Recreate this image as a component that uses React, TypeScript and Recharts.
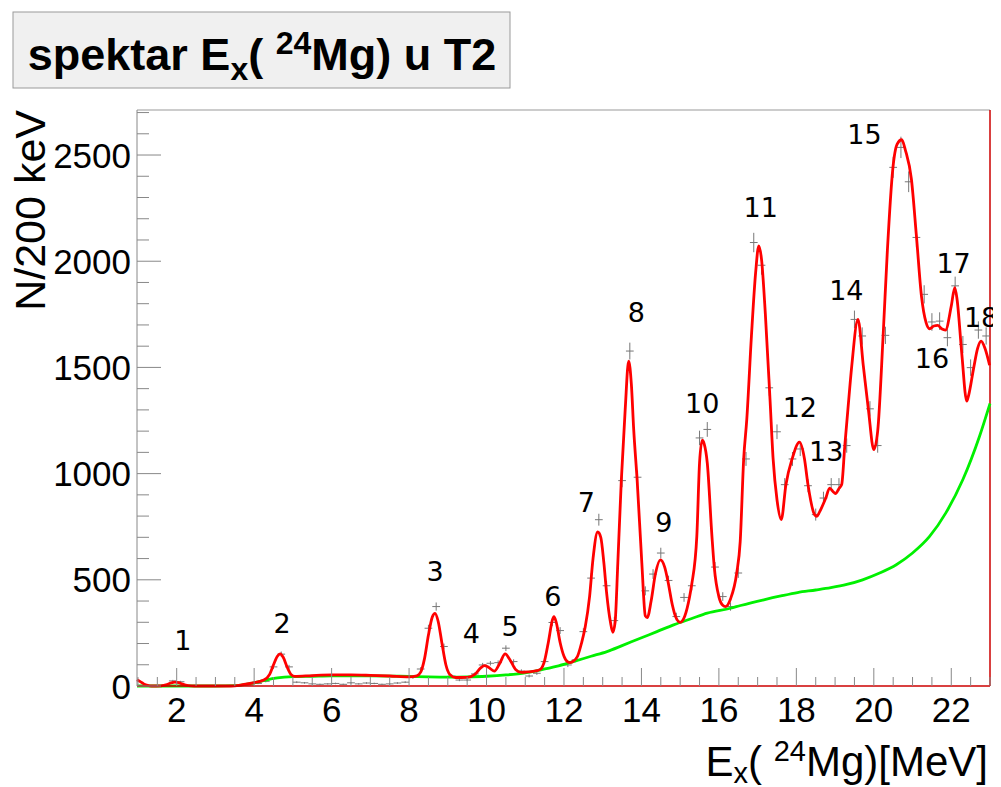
import React from 'react';
import { ComposedChart, Line, Scatter, XAxis, YAxis, ErrorBar, ReferenceLine } from 'recharts';

const X_MIN = 0.975;
const X_MAX = 23;
const Y_MAX = 2712;

const Y_TICKS = [0, 100, 200, 300, 400, 500, 600, 700, 800, 900, 1000, 1100, 1200, 1300, 1400, 1500, 1600, 1700, 1800, 1900, 2000, 2100, 2200, 2300, 2400, 2500, 2600, 2700];
const X_TICKS = [1, 1.5, 2, 2.5, 3, 3.5, 4, 4.5, 5, 5.5, 6, 6.5, 7, 7.5, 8, 8.5, 9, 9.5, 10, 10.5, 11, 11.5, 12, 12.5, 13, 13.5, 14, 14.5, 15, 15.5, 16, 16.5, 17, 17.5, 18, 18.5, 19, 19.5, 20, 20.5, 21, 21.5, 22, 22.5, 23];

// histogram: 200 keV bins, centres 1.1 ... 22.9 MeV
const BIN_CENTERS = [
  1.1, 1.3, 1.5, 1.7, 1.9, 2.1, 2.3, 2.5, 2.7, 2.9, 3.1, 3.3, 3.5, 3.7, 3.9, 4.1, 4.3, 4.5, 4.7, 4.9,
  5.1, 5.3, 5.5, 5.7, 5.9, 6.1, 6.3, 6.5, 6.7, 6.9, 7.1, 7.3, 7.5, 7.7, 7.9, 8.1, 8.3, 8.5, 8.7, 8.9,
  9.1, 9.3, 9.5, 9.7, 9.9, 10.1, 10.3, 10.5, 10.7, 10.9, 11.1, 11.3, 11.5, 11.7, 11.9, 12.1, 12.3, 12.5, 12.7, 12.9,
  13.1, 13.3, 13.5, 13.7, 13.9, 14.1, 14.3, 14.5, 14.7, 14.9, 15.1, 15.3, 15.5, 15.7, 15.9, 16.1, 16.3, 16.5, 16.7, 16.9,
  17.1, 17.3, 17.5, 17.7, 17.9, 18.1, 18.3, 18.5, 18.7, 18.9, 19.1, 19.3, 19.5, 19.7, 19.9, 20.1, 20.3, 20.5, 20.7, 20.9,
  21.1, 21.3, 21.5, 21.7, 21.9, 22.1, 22.3, 22.5, 22.7, 22.9,
];
const COUNTS = [
  2, 0, 2, 5, 24, 20, 3, 0, 1, 0, 0, 1, 2, 3, 5, 12, 22, 90, 150, 90,
  18, 15, 10, 8, 10, 12, 8, 15, 10, 14, 12, 8, 10, 14, 18, 40, 80, 272, 374, 186,
  47, 28, 28, 57, 99, 107, 110, 178, 115, 70, 47, 60, 115, 299, 261, 99, 123, 256, 508, 783,
  472, 308, 967, 1577, 983, 448, 527, 626, 497, 327, 417, 472, 1168, 1208, 560, 421, 374, 532, 1069, 2088,
  1981, 1404, 1197, 948, 1069, 1116, 943, 807, 885, 948, 948, 1132, 1726, 1648, 1305, 1132, 1651, 2442, 2536, 2374,
  2112, 1844, 1714, 1718, 1640, 1884, 1608, 1499, 1676, 1648,
];

// total fit (red)
const FIT_E = [
  0.975, 1.05, 1.15, 1.25, 1.35, 1.6, 1.75, 1.85, 1.95, 2.05, 2.15, 2.3, 2.45, 3.4, 3.7, 4.0, 4.25, 4.4, 4.5, 4.6,
  4.67, 4.75, 4.85, 4.95, 5.05, 5.5, 6.0, 6.5, 7.0, 7.5, 8.0, 8.2, 8.3, 8.4, 8.5, 8.6, 8.67, 8.75, 8.85, 8.95,
  9.05, 9.2, 9.5, 9.7, 9.85, 9.95, 10.05, 10.2, 10.35, 10.48, 10.6, 10.75, 10.9, 11.1, 11.3, 11.4, 11.5, 11.6, 11.7, 11.74,
  11.8, 11.9, 12.0, 12.1, 12.16, 12.25, 12.35, 12.45, 12.55, 12.66, 12.75, 12.87, 12.95, 13.03, 13.1, 13.2, 13.26, 13.32, 13.39, 13.48,
  13.58, 13.67, 13.74, 13.8, 13.89, 14.01, 14.1, 14.15, 14.25, 14.36, 14.49, 14.6, 14.68, 14.8, 14.88, 15.0, 15.12, 15.24, 15.3, 15.43,
  15.5, 15.57, 15.62, 15.7, 15.82, 15.88, 16.0, 16.1, 16.17, 16.3, 16.46, 16.55, 16.64, 16.72, 16.84, 16.95, 17.03, 17.1, 17.2, 17.32,
  17.4, 17.5, 17.61, 17.73, 17.89, 18.08, 18.21, 18.3, 18.47, 18.53, 18.6, 18.76, 18.86, 18.95, 19.01, 19.1, 19.17, 19.25, 19.33, 19.43,
  19.59, 19.73, 19.86, 20.0, 20.1, 20.24, 20.35, 20.49, 20.6, 20.72, 20.82, 20.97, 21.1, 21.23, 21.35, 21.44, 21.55, 21.65, 21.75, 21.85,
  22.0, 22.09, 22.15, 22.27, 22.4, 22.45, 22.58, 22.68, 22.77, 22.87, 22.99,
];
const FIT_N = [
  30, 22, 10, 3, 0, 1, 7, 14, 18, 16, 9, 2, 0, 0, 6, 16, 28, 55, 100, 140,
  151, 135, 90, 55, 45, 49, 52, 52, 50, 47, 43, 48, 65, 130, 240, 325, 342, 305, 200, 100,
  55, 40, 41, 55, 85, 96, 88, 70, 110, 151, 125, 78, 64, 67, 72, 80, 120, 210, 310, 327,
  300, 205, 140, 113, 110, 118, 140, 200, 280, 420, 600, 725, 700, 580, 440, 300, 253, 300, 579, 967,
  1300, 1530, 1420, 1208, 967, 579, 330, 322, 400, 527, 594, 560, 497, 380, 327, 300, 330, 417, 480, 706,
  1050, 1157, 1140, 1050, 706, 560, 420, 380, 374, 410, 532, 680, 1069, 1255, 1648, 1950, 2072, 2010, 1750, 1349,
  1069, 877, 783, 948, 1069, 1148, 1069, 948, 807, 799, 820, 885, 932, 915, 906, 930, 948, 1129, 1300, 1506,
  1726, 1506, 1302, 1113, 1200, 1648, 2050, 2434, 2550, 2572, 2520, 2387, 2119, 1836, 1711, 1682, 1695, 1698, 1682, 1676,
  1789, 1876, 1820, 1569, 1341, 1370, 1499, 1590, 1624, 1590, 1510,
];

// background (green)
const BG_E = [0.975, 1.5, 2.0, 2.5, 3.0, 3.5, 4.0, 4.3, 4.6, 5.0, 5.5, 6.0, 7.0, 8.0, 8.5, 9.0, 9.5, 10.0, 10.5, 11.0, 11.38, 11.8, 12.24, 12.7, 13.11, 13.5, 13.97, 14.4, 14.83, 15.3, 15.7, 16.3, 16.56, 17.16, 17.6, 18.03, 18.5, 18.89, 19.3, 19.71, 20.15, 20.58, 21.0, 21.44, 21.86, 22.3, 22.73, 23.0];
const BG_N = [0, 0, 0, 0, 0, 2, 15, 28, 38, 44, 46, 48, 48, 45, 43, 42, 43, 46, 52, 62, 75, 92, 115, 140, 162, 190, 225, 256, 288, 318, 343, 366, 379, 406, 424, 440, 452, 463, 478, 500, 532, 571, 626, 704, 815, 972, 1176, 1330];

// peak numbers
const PEAK_TEXT = ['1', '2', '3', '4', '5', '6', '7', '8', '9', '10', '11', '12', '13', '14', '15', '16', '17', '18'];
const PEAK_E = [2.16, 4.72, 8.67, 9.61, 10.61, 11.71, 12.58, 13.87, 14.58, 15.57, 17.08, 18.09, 18.77, 19.29, 19.76, 21.5, 22.06, 22.77];
const PEAK_N = [215, 295, 540, 248, 281, 423, 865, 1760, 771, 1332, 2255, 1313, 1106, 1864, 2598, 1544, 1991, 1737];

const hist = BIN_CENTERS.map((e, i) => ({ e, n: COUNTS[i], err: Math.sqrt(COUNTS[i]), xerr: 0.1 }));
const fit = FIT_E.map((e, i) => ({ e, n: FIT_N[i] }));
const bg = BG_E.map((e, i) => ({ e, n: BG_N[i] }));
const peaks = PEAK_E.map((e, i) => ({ e, n: PEAK_N[i], t: PEAK_TEXT[i] }));

const SANS = "'Liberation Sans', Arial, Helvetica, sans-serif";

const YTick = (props: any) => {
  const { x, y, payload } = props;
  const v = payload.value;
  const major = v % 500 === 0;
  return (
    <g>
      <line x1={x} x2={x + (major ? 24 : 12)} y1={y} y2={y} stroke="#888" strokeWidth={1} />
      {major && (
        <text x={x - 6} y={y + 12.5} textAnchor="end" fontFamily={SANS} fontSize={35} fill="#000">
          {v}
        </text>
      )}
    </g>
  );
};

const XTick = (props: any) => {
  const { x, y, payload } = props;
  const v = payload.value;
  const major = v % 2 === 0;
  return (
    <g>
      <line x1={x} x2={x} y1={y} y2={y - (major ? 18 : 9)} stroke="#888" strokeWidth={1} />
      {major && (
        <text x={x} y={y + 35.5} textAnchor="middle" fontFamily={SANS} fontSize={35} fill="#000">
          {v}
        </text>
      )}
    </g>
  );
};

const PeakLabel = (props: any) => {
  const { cx, cy, payload } = props;
  return (
    <text x={cx} y={cy + 10} textAnchor="middle" fontFamily="'DejaVu Sans', sans-serif" fontSize={27} fill="#000">
      {payload.t}
    </text>
  );
};

const NoShape = () => <g />;

export default function App() {
  return (
    <ComposedChart
      width={985}
      height={779}
      margin={{ top: 102, right: 3, bottom: 0, left: 0 }}
    >
      <rect x={5} y={4} width={497} height={76} fill="#f0f0f0" stroke="#9a9a9a" strokeWidth={1} />
      <text x={254} y={62} textAnchor="middle" fontFamily={SANS} fontWeight="bold" fontSize={45} fill="#000">
        spektar E<tspan fontSize={32} dy={10}>x</tspan>
        <tspan dy={-10}>( </tspan>
        <tspan fontSize={32} dy={-16}>24</tspan>
        <tspan dy={16}>Mg) u T2</tspan>
      </text>
      <text
        x={37}
        y={102}
        transform="rotate(-90 37 102)"
        textAnchor="end"
        fontFamily={SANS}
        fontSize={43}
        fill="#000"
      >
        N/200 keV
      </text>
      <text x={980} y={768} textAnchor="end" fontFamily={SANS} fontSize={42} fill="#000">
        E<tspan fontSize={29} dy={7}>x</tspan>
        <tspan dy={-7}>( </tspan>
        <tspan fontSize={29} dy={-15}>24</tspan>
        <tspan dy={15}>Mg)[MeV]</tspan>
      </text>

      <XAxis
        dataKey="e"
        type="number"
        domain={[X_MIN, X_MAX]}
        ticks={X_TICKS}
        interval={0}
        height={101}
        tickSize={0}
        tickMargin={0}
        tickLine={false}
        tick={<XTick />}
        axisLine={{ stroke: '#cc0000', strokeWidth: 1.5 }}
      />
      <YAxis
        dataKey="n"
        type="number"
        domain={[0, Y_MAX]}
        ticks={Y_TICKS}
        interval={0}
        width={129}
        tickSize={0}
        tickMargin={0}
        tickLine={false}
        tick={<YTick />}
        axisLine={{ stroke: '#888', strokeWidth: 1 }}
      />
      <ReferenceLine y={Y_MAX} stroke="#999" strokeWidth={1} />
      <ReferenceLine x={X_MAX} stroke="#cc0000" strokeWidth={1.5} />

      <Scatter data={hist} dataKey="n" shape={NoShape} isAnimationActive={false}>
        <ErrorBar dataKey="err" direction="y" width={0} stroke="#777" strokeWidth={1} isAnimationActive={false} />
        <ErrorBar dataKey="xerr" direction="x" width={0} stroke="#777" strokeWidth={1} isAnimationActive={false} />
      </Scatter>
      <Line data={bg} dataKey="n" type="monotone" dot={false} stroke="#00f000" strokeWidth={2.8} isAnimationActive={false} />
      <Line data={fit} dataKey="n" type="monotone" dot={false} stroke="#ff0000" strokeWidth={2.8} isAnimationActive={false} />
      <Scatter data={peaks} dataKey="n" shape={PeakLabel} isAnimationActive={false} />
    </ComposedChart>
  );
}
